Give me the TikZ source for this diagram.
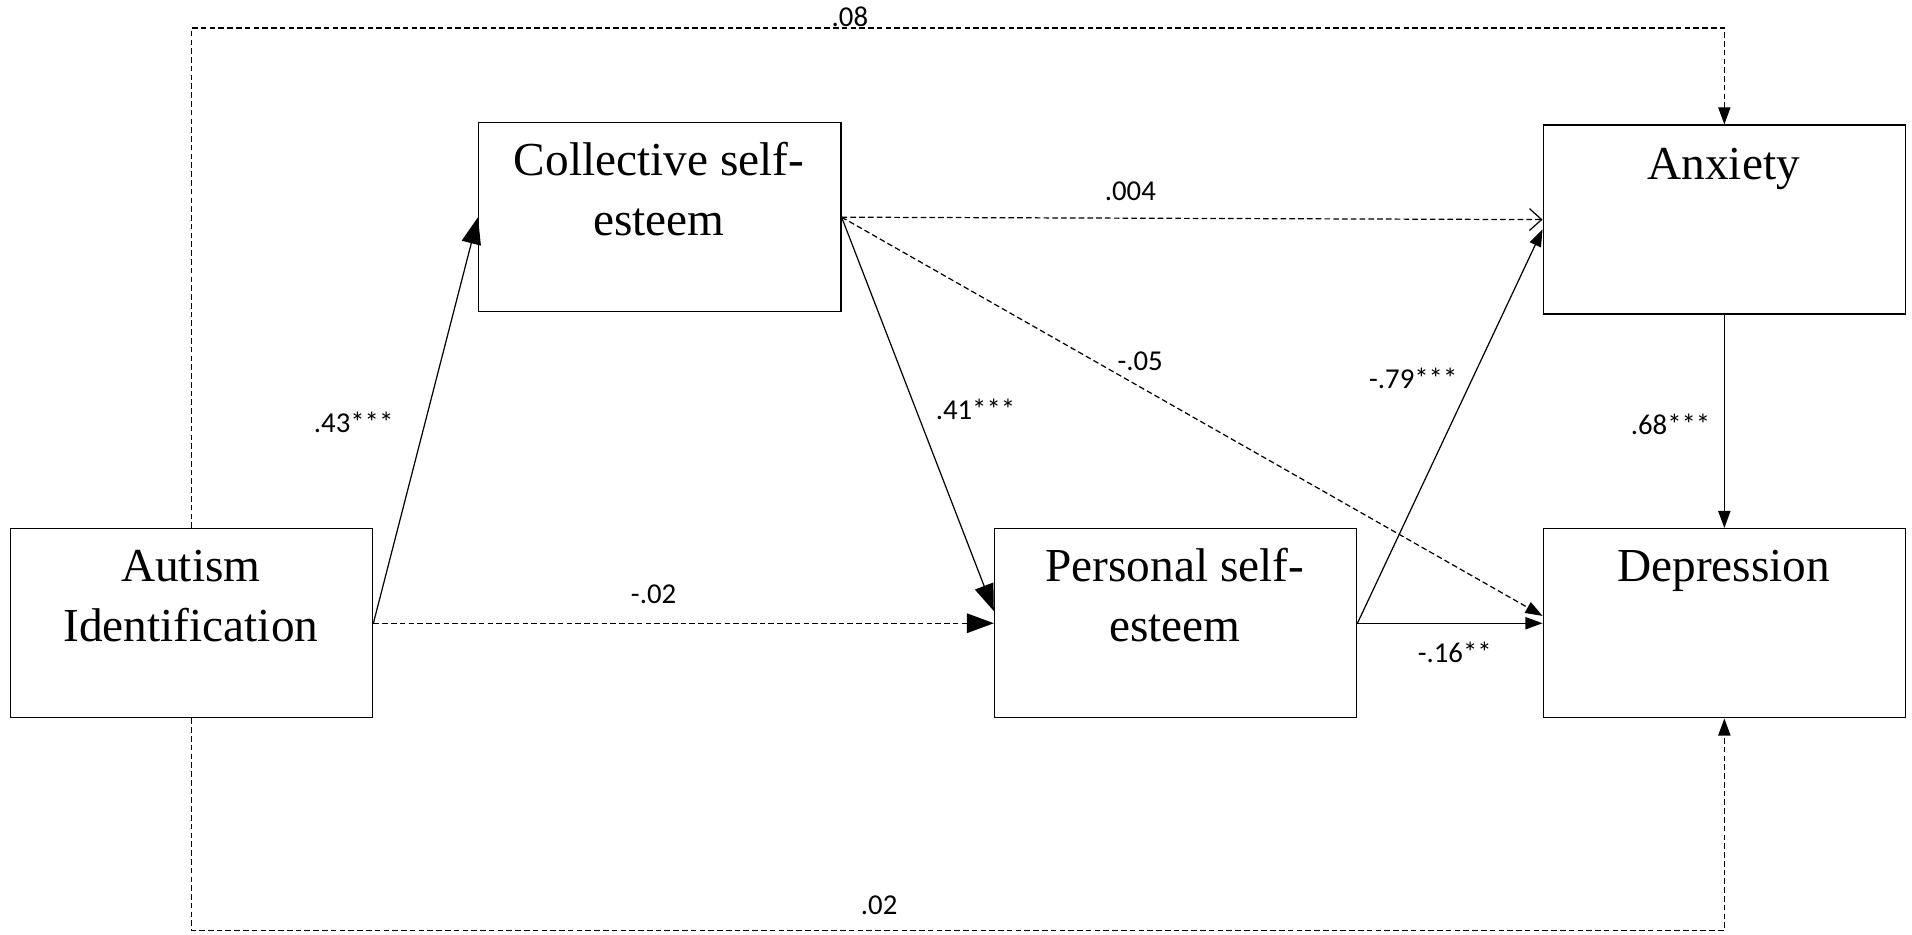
\documentclass[tikz,border=0pt]{standalone}
\usepackage{fontspec}
\setmainfont{Liberation Serif}
\newfontfamily\lblfont{Carlito}
\usetikzlibrary{arrows.meta}
\begin{document}
\begin{tikzpicture}[x=0.5pt,y=-0.5pt,
 box/.style={draw, line width=0.6pt, rectangle, minimum width=148.5pt, minimum height=77.5pt, inner sep=0, anchor=north west},
 boxtext/.style={font=\fontsize{19.4}{24.5}\selectfont, align=center, anchor=base, inner sep=0},
 lbl/.style={font=\lblfont\fontsize{11.8}{14}\selectfont, inner sep=0},
 conn/.style={line width=0.5pt},
 dsh/.style={conn, dash pattern=on 2.3pt off 1.3pt},
 bigtip/.style={-{Triangle[length=11pt,width=8pt]}},
 smalltip/.style={-{Triangle[length=7pt,width=5pt]}},
 opentip/.style={-{Straight Barb[length=5pt,width=9pt]}}]
\useasboundingbox (0,0) rectangle (1568,766);
% boxes
\node[box] (aut) at (8,433) {};
\node[box] (col) at (392,100) {};
\node[box] (anx) at (1265,102) {};
\node[box] (per) at (815,433) {};
\node[box] (dep) at (1265,433) {};
% box texts (base anchor = baseline of the last line)
\node[boxtext] (autT) at (156.5,526) {Autism\\Identification};
\node[boxtext] (colT) at (540.5,193) {Collective self-\\esteem};
\node[boxtext] (anxT) at (1413.5,147) {Anxiety};
\node[boxtext] (perT) at (963.5,526) {Personal self-\\esteem};
\node[boxtext] (depT) at (1413.5,477) {Depression};
% helper coordinates
\coordinate (topY) at (0,23);
\coordinate (botY) at (0,763);
% connectors
\draw[conn,bigtip] (aut.east) -- (col.west);
\draw[dsh,bigtip] (aut.east) -- (per.west);
\draw[conn,bigtip] (col.east) -- ([yshift=5pt]per.west);
\draw[dsh,opentip] (col.east) -- (anx.west);
\draw[dsh,smalltip] (col.east) -- ([yshift=3pt]dep.west);
\draw[conn,smalltip] (per.east) -- ([yshift=-4pt]anx.west);
\draw[conn,smalltip] (per.east) -- (dep.west);
\draw[conn,smalltip] (anx.south) -- (dep.north);
\draw[dsh,smalltip] (aut.north) -- (aut.north |- topY) -| (anx.north);
\draw[dsh,smalltip] (aut.south) -- (aut.south |- botY) -| (dep.south);
% labels
\node[lbl] (l08) at (697,14) {.08};
\node[lbl] (l43) at (290,346) {.43***};
\node[lbl] (l004) at (927,157) {.004};
\node[lbl] (l05) at (935,296) {-.05};
\node[lbl] (l41) at (800,336) {.41***};
\node[lbl] (l79) at (1159,310) {-.79***};
\node[lbl] (l68) at (1370,348) {.68***};
\node[lbl] (l02a) at (536,487) {-.02};
\node[lbl] (l16) at (1193,535) {-.16**};
\node[lbl] (l02b) at (721,742) {.02};
\end{tikzpicture}
\end{document}
